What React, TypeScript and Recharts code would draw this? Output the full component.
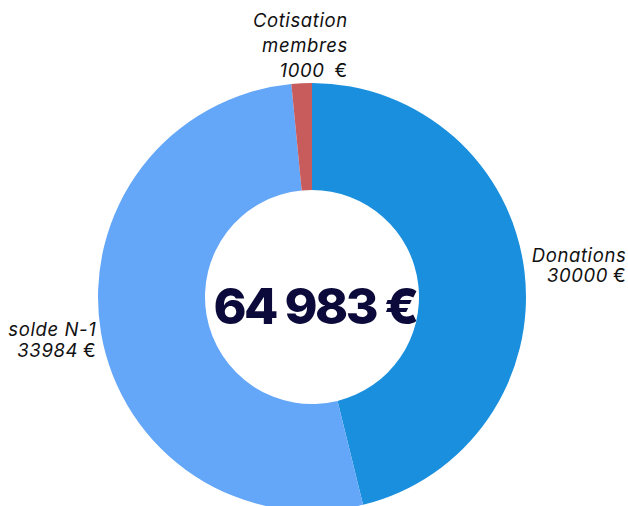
import { PieChart, Pie, Cell } from "recharts";

const names = ["Donations", "solde N-1", "Cotisation membres"];
const values = [30000, 33984, 1000];
const colors = ["#1a8fdd", "#64a6f8", "#c85c5d"];
const totalLabel = "64 983 €";

const data = names.map((name, i) => ({ name, value: values[i] }));

const RADIAN = Math.PI / 180;
const labelFont = "Inter, 'Noto Sans', sans-serif";

const renderLabel = (props: any) => {
  const { cx, cy, midAngle, outerRadius, index } = props;
  const r = outerRadius + 18;
  const px = cx + r * Math.cos(-midAngle * RADIAN);
  const py = cy + r * Math.sin(-midAngle * RADIAN);
  const name: string = names[index];
  const val = values[index];

  let lines: string[];
  let endX: number;
  let firstY: number;
  let step: number;
  if (Math.abs(px - cx) < 40) {
    // top label, name wrapped over two lines
    lines = [...name.split(" "), `${val}`];
    endX = px + 47;
    firstY = py - 38;
    step = 25;
  } else if (px > cx) {
    lines = [name, `${val}`];
    endX = px + 84;
    firstY = py - 7;
    step = 20;
  } else {
    lines = [name, `${val}`];
    endX = px + 13;
    firstY = py;
    step = 21;
  }

  return (
    <text
      key={`lbl-${index}`}
      textAnchor="end"
      fontFamily={labelFont}
      fontSize={18.5}
      fontStyle="italic"
      letterSpacing={0.6}
      fill="#111"
    >
      {lines.map((l, i) => (
        <tspan key={i} x={endX} y={firstY + i * step}>
          {l}
          {i === lines.length - 1 && (
            <tspan fontStyle="normal" fontSize={19} dx={index === 2 ? 10 : 5}>
              €
            </tspan>
          )}
        </tspan>
      ))}
    </text>
  );
};

export default function App() {
  return (
    <div style={{ position: "absolute", left: 0, top: 0, background: "#fff" }}>
      <PieChart width={628} height={506} margin={{ top: 0, right: 0, bottom: 0, left: 0 }}>
        <Pie
          data={data}
          dataKey="value"
          nameKey="name"
          cx={312}
          cy={297}
          innerRadius={107}
          outerRadius={214}
          startAngle={90}
          endAngle={-270}
          stroke="none"
          label={renderLabel}
          labelLine={false}
          isAnimationActive={false}
        >
          {data.map((d, i) => (
            <Cell key={d.name} fill={colors[i]} />
          ))}
        </Pie>
        <text
          x={315}
          y={324}
          textAnchor="middle"
          fontFamily={labelFont}
          fontSize={50}
          fontWeight={800}
          letterSpacing={-2.5}
          fill="#0b0a3a"
        >
          {totalLabel}
        </text>
      </PieChart>
    </div>
  );
}
